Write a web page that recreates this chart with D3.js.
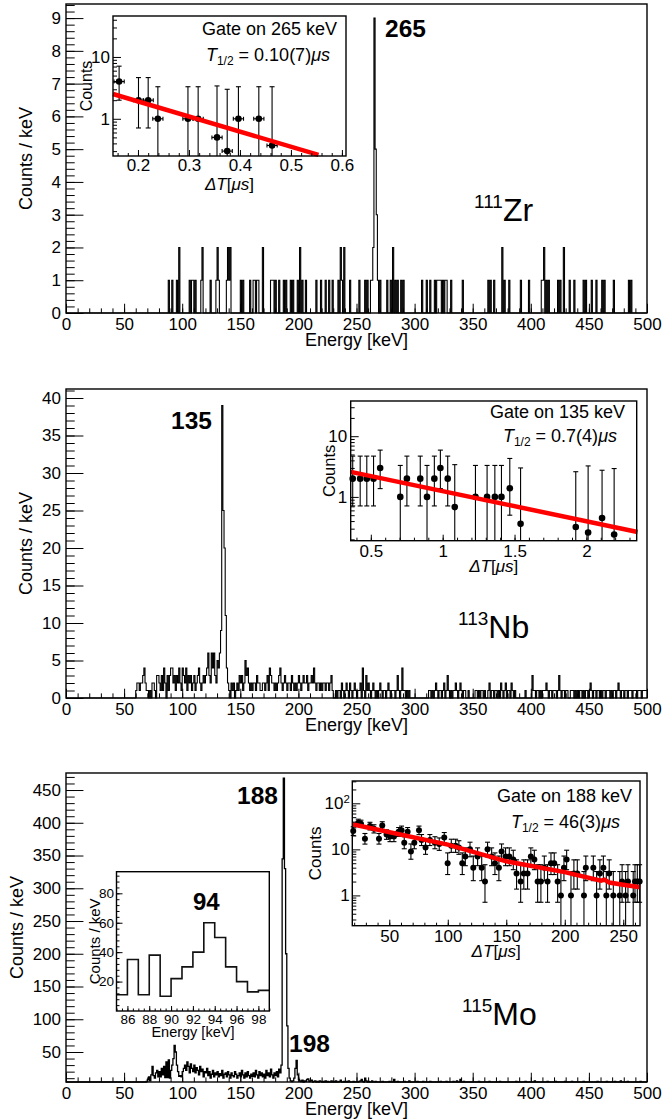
<!DOCTYPE html>
<html>
<head>
<meta charset="utf-8">
<script src="https://cdn.jsdelivr.net/npm/d3@7"></script>
<style>
body { margin: 0; background: #fff; }
text { font-family: "Liberation Sans", Arial, Helvetica, sans-serif; fill: #000; }
</style>
</head>
<body>
<svg id="chart" width="664" height="1120"></svg>
<script>
// ---- 111Zr spectrum: sparse bins (1 keV wide) ----
const zrSingle = [88, 91, 95, 106, 108, 109, 111, 116, 124, 129, 131, 138, 140, 150, 152, 158, 161, 162, 164, 165,
    176, 177, 178, 180, 183, 187, 189, 193, 195, 199, 203, 206, 215, 219, 223, 226, 229, 234, 237, 244,
    252, 257, 259, 262, 270, 276, 279, 283, 285, 288, 290, 306, 310, 313, 317, 319, 320, 321, 322, 324,
    326, 327, 331, 341, 363, 365, 368, 377, 381, 391, 398, 409, 410, 413, 415, 423, 425, 433, 437, 445,
    447, 452, 456, 461, 463, 471, 484, 486];
const zrDouble = [97, 117, 130, 139, 141, 169, 201, 236, 239, 281, 375, 411, 428];
const zrPeak = [[263, 1], [264, 2], [265, 9], [266, 5], [267, 3], [268, 1]];

// ---- 113Nb spectrum, counts per keV from 60 keV ----
const nbStart = 60;
const nbCounts = [
    1,2,2,1,2,2,3,4,2,1, 1,0,1,0,2,2,1,0,3,3, 2,1,3,1,4,2,0,3,1,3, 4,4,2,3,1,3,2,4,2,1,
    4,3,2,4,1,3,2,3,1,2, 3,1,2,3,4,2,1,2,3,2, 3,4,6,3,2,6,4,6,3,2, 5,4,6,9,39,25,20,11,4,2,
    1,0,2,1,2,0,1,2,1,3, 2,3,1,2,5,3,4,2,1,2, 1,2,2,1,3,2,2,1,1,2, 2,1,2,3,1,4,3,2,2,1,
    2,1,2,3,4,2,1,2,3,2, 1,2,2,1,3,2,1,2,1,2, 3,2,1,2,3,2,2,3,1,2, 2,3,2,4,2,1,2,2,1,2,
    1,2,2,1,2,2,1,2,3,1, 0,0,1,0,1,1,0,2,1,0, 1,2,1,0,2,1,0,1,2,1, 0,1,1,2,0,4,1,0,3,1,
    2,1,0,1,2,1,0,1,0,1, 2,1,0,1,1,0,1,2,1,0, 1,1,1,0,1,3,1,0,1,4, 1,1,0,1,0,1,0,0,0,0,
    0,0,0,0,0,0,0,0,0,0, 0,0,1,1,0,1,0,1,2,1, 0,1,1,0,1,2,0,1,3,1, 0,1,0,1,1,2,1,0,1,2,
    1,0,1,1,0,0,1,0,0,0, 0,0,1,1,0,1,0,1,1,0, 1,0,0,1,2,0,1,1,0,1, 1,0,1,0,2,1,0,1,2,0,
    1,1,0,2,1,0,1,0,0,0, 0,0,0,0,0,1,0,0,0,0, 0,3,1,1,0,1,1,0,1,0, 1,1,1,2,1,0,1,1,0,1,
    1,1,0,1,3,1,0,1,1,0, 1,1,0,0,1,1,1,0,1,0, 1,0,1,1,0,1,0,1,1,0, 1,2,1,0,1,1,0,1,1,0,
    1,0,1,1,0,1,1,1,0,1, 0,1,1,0,1,2,1,0,1,1, 0,1,1,0,1,1,1,0,1,1, 1,0,1,1,1,0,1,1,1,1
];

// ---- 115Mo spectrum, counts per keV from 65 keV ----
const moStart = 65;
const moCounts = [
    0,0,2,3,5,
    8,12,6,15,28,14,10,18,22,12, 20,12,25,15,28,11,35,11,38,10, 22,30,40,60,50,30,20,13,14,12,
    20,25,30,22,35,28,18,32,25,20, 30,18,26,22,15,28,20,24,12,20, 18,25,14,20,10,16,22,12,18,15,
    20,12,17,14,22,10,16,18,12,20, 15,10,18,14,12,20,16,10,14,18, 12,22,15,10,18,12,20,14,10,16,
    13,18,12,22,15,10,20,14,18,12, 16,10,22,14,18,12,24,15,10,18, 14,20,12,24,18,30,345,468,330,200,
    90,25,10,6,5,6,10,25,37,15, 8,6,5,7,4,6,5,8,9,5, 6,7,4,5,6,3,5,4,6,5,
    4,5,3,6,4,5,3,4,6,3, 5,4,6,3,4,5,7,3,4,5, 3,5,4,6,3,4,2,5,4,3,
    4,3,5,6,8,5,4,10,6,4, 5,4,3,6,4,3,5,4,3,4, 3,4,5,3,4,2,4,3,5,3,
    4,3,8,4,3,5,2,4,3,4, 3,5,4,3,4,6,3,4,2,3, 4,3,5,2,4,3,4,5,3,2,
    3,4,2,5,3,4,3,2,4,3, 4,3,5,3,2,4,3,5,4,3, 2,4,3,5,3,4,6,3,4,8,
    3,4,5,3,2,4,3,4,3,2, 4,3,2,4,3,5,2,3,4,3, 3,2,4,3,5,3,2,4,3,2,
    4,3,2,5,3,2,4,3,2,4, 3,2,4,3,2,4,3,5,2,3, 2,4,3,2,3,5,2,4,3,2,
    3,2,4,6,2,3,4,2,3,4, 2,3,4,2,5,3,2,4,3,2, 3,5,2,3,4,2,3,4,2,5,
    2,3,4,2,3,5,2,3,4,2, 3,2,4,3,2,5,3,2,4,3, 2,4,3,2,3,4,2,5,3,2,
    3,2,4,2,3,5,2,3,4,2, 2,3,5,2,3,4,2,6,3,2, 4,2,3,5,2,3,4,2,3,2,
    3,4,2,3,5,2,3,2,4,3
];

// ---- decay curves: [time, counts, lower, upper] ----
const decay265 = [
    [0.163, 4, 2.0, 7.1], [0.201, 2, 0.71, 4.64], [0.220, 2, 0.71, 4.64], [0.239, 1, 0.17, 3.3],
    [0.298, 1, 0.17, 3.3], [0.318, 1, 0.17, 3.3], [0.355, 0.5, 0.1, 3.4], [0.375, 0.3, 0.05, 3.0],
    [0.397, 1, 0.17, 3.3], [0.437, 1, 0.17, 3.3], [0.463, 0.37, 0.05, 3.3]
];
const decay135 = [
    [0.374, 2, 0.71, 4.7], [0.426, 2, 0.71, 4.7], [0.472, 2, 0.71, 4.7], [0.519, 2, 0.71, 4.7],
    [0.565, 3, 1.37, 5.9], [0.705, 1, 0.17, 3.3], [0.751, 2, 0.71, 4.7], [0.844, 2, 0.71, 4.7],
    [0.891, 1, 0.17, 3.3], [0.942, 2, 0.71, 4.7], [0.984, 3, 1.37, 5.9], [1.035, 2, 0.71, 4.7],
    [1.084, 0.68, 0.1, 3.4], [1.228, 1, 0.17, 3.3], [1.309, 1, 0.17, 3.3], [1.363, 1, 0.17, 3.3],
    [1.409, 1, 0.17, 3.3], [1.467, 1.39, 0.5, 4.3], [1.542, 0.36, 0.05, 3.0], [1.926, 0.32, 0.05, 2.6],
    [2.012, 0.26, 0.05, 3.24], [2.109, 0.45, 0.05, 2.75], [2.193, 0.24, 0.05, 2.93]
];
const decay188 = [
    [19.2, 25, 20, 30.9], [23.5, 38, 31.9, 45.2], [25.8, 36, 30, 43], [29.2, 17, 13, 22.1],
    [33.5, 32, 26.4, 38.7], [36.9, 28, 22.7, 34.2], [41.2, 17, 13, 22.1], [44, 33, 27.3, 39.8],
    [47.7, 21, 16.5, 26.5], [50.6, 19, 14.7, 24.3], [54, 19, 14.7, 24.3], [58, 24, 19.1, 29.8],
    [60.5, 26, 20.9, 32], [62.8, 14, 10.3, 18.8], [65.7, 24, 19.1, 29.8], [68.5, 9, 6.1, 13.1],
    [71.4, 14, 10.3, 18.8], [75.4, 26, 20.9, 32], [77.6, 16, 12.1, 21], [81, 11, 7.8, 15.4],
    [84.7, 16, 12.1, 21], [89, 14, 10.3, 18.8], [92.7, 13, 9.5, 17.7], [97, 18, 13.8, 23.2],
    [99.9, 5, 2.84, 8.38], [103, 12, 8.6, 16.6], [106.7, 12, 8.6, 16.6], [109.5, 11, 7.8, 15.4],
    [112.4, 5, 2.84, 8.38], [115, 7, 4.42, 10.77], [119, 10, 6.9, 14.3], [121.8, 4, 2.09, 7.16],
    [125.5, 7, 4.42, 10.77], [129, 4, 2.09, 7.16], [131.8, 2, 0.71, 4.64], [134, 10, 6.9, 14.3],
    [137.5, 7, 4.42, 10.77], [140.3, 5, 2.84, 8.38], [143.7, 4, 2.09, 7.16], [146, 9, 6.1, 13.1],
    [149.4, 7, 4.42, 10.77], [152.6, 7, 4.42, 10.77], [156, 6, 3.62, 9.58], [158.8, 3, 1.37, 5.92],
    [162.3, 2, 0.71, 4.64], [165, 3, 1.37, 5.92], [168.2, 3, 1.37, 5.92], [171, 7, 4.42, 10.77],
    [174, 6, 3.62, 9.58], [176.8, 2, 0.71, 4.64], [179.6, 2, 0.71, 4.64], [182.5, 4, 2.09, 7.16],
    [185.3, 2, 0.71, 4.64], [188.2, 5, 2.84, 8.38], [191, 5, 2.84, 8.38], [193.9, 2, 0.71, 4.64],
    [196.7, 1, 0.17, 3.3], [199.3, 4, 2.09, 7.16], [201.6, 6, 3.62, 9.58], [205.3, 1, 0.17, 3.3],
    [207.8, 3, 1.37, 5.92], [210.7, 3, 1.37, 5.92], [216.4, 1, 0.17, 3.3], [218, 4, 2.09, 7.16],
    [224.4, 4, 2.09, 7.16], [227.2, 1, 0.17, 3.3], [230, 3, 1.37, 5.92], [233, 4, 2.09, 7.16],
    [235.5, 1, 0.17, 3.3], [238, 3, 1.37, 5.92], [241.5, 1, 0.17, 3.3], [247, 1, 0.17, 3.3],
    [249, 2, 0.71, 4.64], [252, 1, 0.17, 3.3], [254, 2, 0.71, 4.64], [258.5, 1, 0.17, 3.3],
    [260, 2, 0.71, 4.64], [262, 2, 0.71, 4.64], [264, 2, 0.71, 4.64]
];

// fitted curves: [time, counts]
const fit265 = [[0.151, 2.52], [0.554, 0.261]];
const fit135 = [[0.36, 2.58], [2.356, 0.265]];
const fit188 = [[18.4, 35], [100, 12.7], [150, 5.5], [200, 3.2], [231, 2.1], [234, 2.2], [238, 1.9], [250, 1.7], [264.3, 1.5]];

const svg = d3.select("#chart");

function toBins(start, values) {
    const arr = new Array(500).fill(0);
    values.forEach((c, i) => { arr[start + i] = c; });
    return arr;
}

function styleAxis(sel, fontSize) {
    sel.select(".domain").remove();
    sel.selectAll("line").attr("stroke", "#000").attr("stroke-width", 1);
    sel.selectAll("text").attr("font-size", fontSize).attr("fill", "#000");
}

function frame(g, l, r, t, b) {
    g.append("rect").attr("x", l).attr("y", t).attr("width", r - l).attr("height", b - t)
        .attr("fill", "none").attr("stroke", "#000").attr("stroke-width", 1.4);
}

function axisBottom(g, x, b, major, minor, len, fmt, fontSize, baseOff) {
    g.append("g").attr("transform", "translate(0," + b + ")")
        .call(d3.axisBottom(x).tickValues(minor).tickSize(-len / 2).tickFormat(""))
        .call(s => styleAxis(s, fontSize));
    return g.append("g").attr("transform", "translate(0," + b + ")")
        .call(d3.axisBottom(x).tickValues(major).tickSize(-len).tickPadding(baseOff - 0.71 * fontSize).tickFormat(fmt))
        .call(s => styleAxis(s, fontSize));
}

function axisLeft(g, y, l, major, minor, len, fmt, fontSize, pad) {
    g.append("g").attr("transform", "translate(" + l + ",0)")
        .call(d3.axisLeft(y).tickValues(minor).tickSize(-len / 2).tickFormat(""))
        .call(s => styleAxis(s, fontSize));
    return g.append("g").attr("transform", "translate(" + l + ",0)")
        .call(d3.axisLeft(y).tickValues(major).tickSize(-len).tickPadding(pad).tickFormat(fmt))
        .call(s => styleAxis(s, fontSize));
}

function yTitle(g, text, bx, cy, size) {
    g.append("text").attr("transform", "translate(" + bx + "," + cy + ") rotate(-90)")
        .attr("text-anchor", "middle").attr("font-size", size).text(text);
}

function dtTitle(g, cx, base, size) {
    const t = g.append("text").attr("x", cx).attr("y", base).attr("text-anchor", "middle").attr("font-size", size);
    t.append("tspan").attr("font-style", "italic").text("\u0394T");
    t.append("tspan").text("[");
    t.append("tspan").attr("font-style", "italic").text("\u03bcs");
    t.append("tspan").text("]");
}

function spectrum(p) {
    const g = svg.append("g");
    const x = d3.scaleLinear().domain([0, 500]).range([p.left, p.right]);
    const y = d3.scaleLinear().domain(p.yDomain).range([p.bottom, p.top]).clamp(true);
    const pts = p.bins.map((c, i) => [i, c]);
    pts.push([500, p.bins[499]]);
    g.append("path").datum(pts)
        .attr("d", d3.line().x(d => x(d[0])).y(d => y(d[1])).curve(d3.curveStepAfter))
        .attr("fill", "none").attr("stroke", "#000").attr("stroke-width", p.lineWidth);
    frame(g, p.left, p.right, p.top, p.bottom);
    const h = p.bottom - p.top, w = p.right - p.left;
    axisBottom(g, x, p.bottom, d3.range(0, 501, 50), d3.range(0, 501, 10), 0.03 * h, d3.format("d"), 17, 17);
    axisLeft(g, y, p.left, p.yMajor, p.yMinor, 0.03 * w, d3.format("d"), 17, 5);
    g.append("text").attr("x", (p.left + p.right) / 2).attr("y", p.bottom + 33)
        .attr("text-anchor", "middle").attr("font-size", 18).text("Energy [keV]");
    yTitle(g, "Counts / keV", p.yTitleX, (p.top + p.bottom) / 2, 18);
    p.peaks.forEach(pk => {
        g.append("text").attr("x", pk.x).attr("y", pk.y).attr("text-anchor", pk.anchor)
            .attr("font-size", 24.5).attr("font-weight", "bold").text(pk.text);
    });
    const iso = g.append("text").attr("x", p.iso.x).attr("y", p.iso.y).attr("font-size", 32);
    iso.append("tspan").attr("font-size", 19).attr("dy", -13).text(p.iso.mass);
    iso.append("tspan").attr("dy", 13).text(p.iso.name);
    return g;
}

function decay(p) {
    const g = svg.append("g");
    const x = d3.scaleLinear().domain(p.xDomain).range([p.left, p.right]);
    const y = d3.scaleLog().domain(p.yDomain).range([p.bottom, p.top]).clamp(true);
    const inY = v => v >= p.yDomain[0] && v <= p.yDomain[1];
    const all = y.ticks();
    const major = all.filter(v => Math.abs(Math.log10(v) - Math.round(Math.log10(v))) < 1e-9);
    const minor = all.filter(v => major.indexOf(v) < 0);

    const eb = g.append("g").attr("stroke", "#000").attr("stroke-width", 1.1);
    p.data.forEach(d => {
        const cx = x(d[0]);
        eb.append("line").attr("x1", cx).attr("x2", cx).attr("y1", y(d[2])).attr("y2", y(d[3]));
        [d[2], d[3]].forEach(v => {
            if (inY(v)) eb.append("line").attr("x1", cx - 2.5).attr("x2", cx + 2.5).attr("y1", y(v)).attr("y2", y(v));
        });
        if (p.xErr) {
            const x0 = Math.max(x(d[0] - p.xErr), p.left), x1 = x(d[0] + p.xErr);
            eb.append("line").attr("x1", x0).attr("x2", x1).attr("y1", y(d[1])).attr("y2", y(d[1]));
            eb.append("line").attr("x1", x1).attr("x2", x1).attr("y1", y(d[1]) - 2).attr("y2", y(d[1]) + 2);
            if (x0 > p.left) eb.append("line").attr("x1", x0).attr("x2", x0).attr("y1", y(d[1]) - 2).attr("y2", y(d[1]) + 2);
        }
    });
    g.append("g").selectAll("circle").data(p.data).enter().append("circle")
        .attr("cx", d => x(d[0])).attr("cy", d => y(d[1])).attr("r", p.r).attr("fill", "#000");
    g.append("path").datum(p.fit)
        .attr("d", d3.line().x(d => x(d[0])).y(d => y(d[1])))
        .attr("fill", "none").attr("stroke", "#ff0000").attr("stroke-width", 4.5);

    frame(g, p.left, p.right, p.top, p.bottom);
    axisBottom(g, x, p.bottom, p.xMajor, p.xMinor, 6, p.xFmt, 17, p.xLabelOff);
    const ya = axisLeft(g, y, p.left, major, minor, 8, d3.format("d"), 17, p.yPad);
    ya.selectAll("text").each(function(d) {
        if (d === 100) {
            const t = d3.select(this).text("10");
            t.append("tspan").attr("font-size", 11.5).attr("dy", "-0.55em").text("2");
        }
    });
    yTitle(g, "Counts", p.countsX, (p.top + p.bottom) / 2, p.countsSize);
    dtTitle(g, (p.left + p.right) / 2, p.dtBase, 17);

    g.append("text").attr("x", p.gate.x).attr("y", p.gate.y).attr("text-anchor", "end")
        .attr("font-size", 18).text("Gate on " + p.gate.text + " keV");
    const t = g.append("text").attr("x", p.half.x).attr("y", p.half.y).attr("text-anchor", "end").attr("font-size", 18);
    t.append("tspan").attr("font-style", "italic").text("T");
    t.append("tspan").attr("font-size", 12).attr("dy", 4).text("1/2");
    t.append("tspan").attr("dy", -4).text(" = " + p.half.text);
    t.append("tspan").attr("font-style", "italic").text("\u03bcs");
}

function zoomHist(p) {
    const g = svg.append("g");
    const x = d3.scaleLinear().domain(p.xDomain).range([p.left, p.right]);
    const y = d3.scaleLinear().domain(p.yDomain).range([p.bottom, p.top]);
    const pts = p.values.map((c, i) => [p.xDomain[0] + i, c]);
    pts.push([p.xDomain[0] + p.values.length, p.values[p.values.length - 1]]);
    g.append("path").datum(pts)
        .attr("d", d3.line().x(d => x(d[0])).y(d => y(d[1])).curve(d3.curveStepAfter))
        .attr("fill", "none").attr("stroke", "#111").attr("stroke-width", 1.6);
    frame(g, p.left, p.right, p.top, p.bottom);
    axisBottom(g, x, p.bottom, d3.range(86, 99, 2), d3.range(85, 99.1, 0.5), 5, d3.format("d"), 13.5, 13);
    axisLeft(g, y, p.left, d3.range(20, 81, 20), d3.range(4, 94, 4), 6, d3.format("d"), 13.5, 2.5);
    g.append("text").attr("x", (p.left + p.right) / 2).attr("y", p.bottom + 26)
        .attr("text-anchor", "middle").attr("font-size", 14.5).text("Energy [keV]");
    yTitle(g, "Counts / keV", p.left - 16.5, (p.top + p.bottom) / 2, 15);
    g.append("text").attr("x", p.label.x).attr("y", p.label.y).attr("font-size", 24)
        .attr("font-weight", "bold").text(p.label.text);
}

const zrBins = new Array(500).fill(0);
zrSingle.forEach(e => { zrBins[e] = 1; });
zrDouble.forEach(e => { zrBins[e] = 2; });
zrPeak.forEach(d => { zrBins[d[0]] = d[1]; });

spectrum({
    left: 66, right: 647, top: 4, bottom: 313, yDomain: [0, 9.43],
    yMajor: d3.range(0, 9.01, 1), yMinor: d3.range(0, 9.43, 0.2), yTitleX: 32, lineWidth: 1.1,
    bins: zrBins,
    peaks: [{ text: "265", x: 385, y: 37, anchor: "start" }],
    iso: { mass: "111", name: "Zr", x: 474, y: 221 }
});
spectrum({
    left: 66, right: 647, top: 389, bottom: 698, yDomain: [0, 41.2],
    yMajor: d3.range(0, 41, 5), yMinor: d3.range(0, 41.2, 1), yTitleX: 32, lineWidth: 1.1,
    bins: toBins(nbStart, nbCounts),
    peaks: [{ text: "135", x: 212, y: 429, anchor: "end" }],
    iso: { mass: "113", name: "Nb", x: 458, y: 638 }
});
spectrum({
    left: 66, right: 647, top: 773, bottom: 1082, yDomain: [4.2, 476],
    yMajor: d3.range(50, 451, 50), yMinor: d3.range(10, 471, 10), yTitleX: 23, lineWidth: 1.3,
    bins: toBins(moStart, moCounts),
    peaks: [{ text: "188", x: 278, y: 804, anchor: "end" }, { text: "198", x: 289, y: 1052, anchor: "start" }],
    iso: { mass: "115", name: "Mo", x: 462, y: 1025 }
});

decay({
    left: 113, right: 346, top: 16, bottom: 156, xDomain: [0.151, 0.608], yDomain: [0.25, 46],
    xMajor: d3.range(0.2, 0.61, 0.1), xMinor: d3.range(0.16, 0.608, 0.02), xFmt: d3.format(".1f"), xLabelOff: 15,
    yPad: 3, countsX: 92, countsSize: 16, dtBase: 190, data: decay265, fit: fit265, xErr: 0.01, r: 3.3,
    gate: { text: "265", x: 337, y: 35 }, half: { text: "0.10(7)", x: 330, y: 61 }
});
decay({
    left: 350.7, right: 636.7, top: 401, bottom: 540.7, xDomain: [0.36, 2.35], yDomain: [0.19, 38],
    xMajor: [0.5, 1, 1.5, 2], xMinor: d3.range(0.4, 2.35, 0.1), xFmt: d3.format("~g"), xLabelOff: 16,
    yPad: 3.5, countsX: 335, countsSize: 16.5, dtBase: 572, data: decay135, fit: fit135, xErr: 0, r: 3.3,
    gate: { text: "135", x: 625, y: 418 }, half: { text: "0.7(4)", x: 617, y: 442 }
});
decay({
    left: 352.3, right: 640, top: 781, bottom: 925.7, xDomain: [18.4, 264.3], yDomain: [0.22, 305],
    xMajor: d3.range(50, 251, 50), xMinor: d3.range(20, 264, 10), xFmt: d3.format("d"), xLabelOff: 16,
    yPad: 2.5, countsX: 321, countsSize: 17, dtBase: 957, data: decay188, fit: fit188, xErr: 0, r: 3,
    gate: { text: "188", x: 632, y: 802 }, half: { text: "46(3)", x: 620, y: 828 }
});

zoomHist({
    left: 116.5, right: 269.3, top: 871.7, bottom: 1011, xDomain: [85, 99], yDomain: [0, 94.7],
    values: moCounts.slice(85 - moStart, 99 - moStart),
    label: { text: "94", x: 193, y: 910 }
});
</script>
</body>
</html>
